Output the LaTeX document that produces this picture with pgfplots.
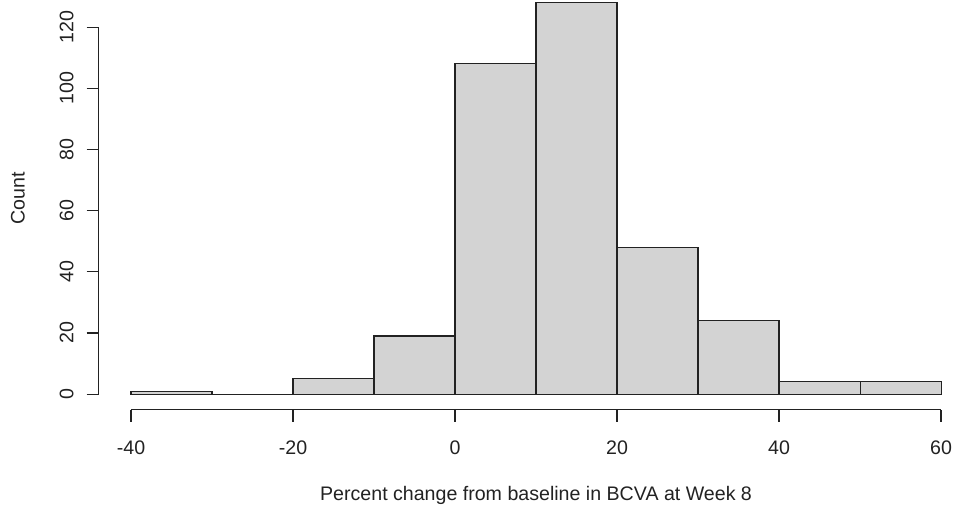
\documentclass[border=0pt]{standalone}
\usepackage{pgfplots}
\pgfplotsset{compat=1.18}
\usepackage{fontspec}
\setmainfont{Liberation Sans}
\definecolor{barfill}{HTML}{D3D3D3}
\definecolor{ink}{HTML}{222222}

\begin{document}
\fontsize{9.8}{11.8}\selectfont
\begin{tikzpicture}
\begin{axis}[
  name=ax,
  scale only axis,
  width=427.7pt, height=204.9pt,
  xmin=-44, xmax=61.6, ymin=-5.12, ymax=128.9,
  axis x line*=bottom, axis y line*=left,
  axis line style={draw=none},
  tick align=outside,
  major tick length=6pt,
  tick style={ink, line width=0.6pt},
  xtick={-40,-20,0,20,40,60},
  xticklabels={-40,-20,0,20,40,60},
  ytick={0,20,40,60,80,100,120},
  yticklabels={0,20,40,60,80,100,120},
  xticklabel style={anchor=center, yshift=-13.15pt, text=ink},
  yticklabel style={xshift=-10pt, rotate=90, anchor=center, text=ink},
  xlabel={Percent change from baseline in BCVA at Week 8},
  ylabel={Count},
  every axis x label/.style={at={(axis description cs:0.5114,0)}, anchor=center, yshift=-42.6pt, text=ink},
  every axis y label/.style={at={(axis description cs:0,0.5157)}, xshift=-40.3pt, rotate=90, anchor=center, text=ink},
  clip=false,
]
% histogram counts per 10-point bin, last point closes the final interval
\addplot[ybar interval, fill=barfill, draw=ink, line width=0.55pt]
  coordinates {(-40,1) (-30,0) (-20,5) (-10,19) (0,108) (10,128) (20,48) (30,24) (40,4) (50,4) (60,4)};
% detached axis lines spanning the tick range
\draw[ink, line width=0.6pt] (axis cs:-40,-5.12) -- (axis cs:60,-5.12);
\draw[ink, line width=0.6pt] (axis cs:-44,0) -- (axis cs:-44,120);
\end{axis}
\pgfresetboundingbox
\path[use as bounding box] ([shift={(-49.3pt,-48.15pt)}]ax.south west) rectangle (ax.north east);
\end{tikzpicture}
\end{document}
